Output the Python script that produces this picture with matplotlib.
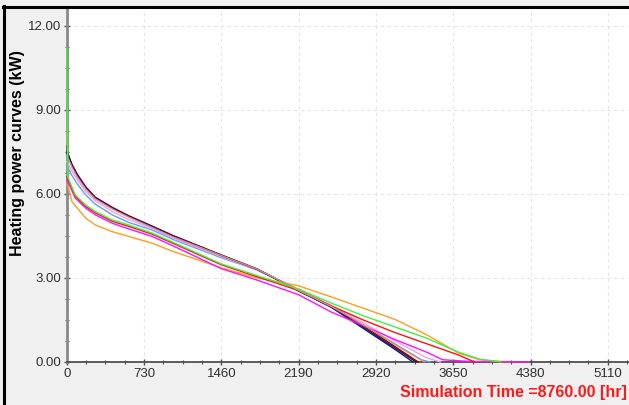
import numpy as np
import matplotlib
matplotlib.use("Agg")
import matplotlib.pyplot as plt
from matplotlib.ticker import AutoMinorLocator, FormatStrFormatter
from matplotlib.lines import Line2D

# --------------------- datos (horas, kW) ---------------------

h_navy   = [0, 10, 50, 100, 180, 270, 430, 585, 806, 1000, 1460, 1800, 2190, 2500, 2800, 3100, 3270]
p_navy   = [7.45, 7.4, 7.0, 6.65, 6.2, 5.85, 5.49, 5.19, 4.83, 4.5, 3.8, 3.3, 2.55, 1.95, 1.2, 0.45, 0.0]

h_maroon = [0, 10, 50, 100, 180, 270, 430, 585, 806, 1000, 1460, 1800, 2190, 2500, 2800, 3100, 3320]
p_maroon = [7.7, 7.45, 7.05, 6.7, 6.25, 5.88, 5.52, 5.22, 4.85, 4.52, 3.82, 3.32, 2.55, 1.98, 1.3, 0.55, 0.0]

h_black  = [0, 10, 50, 100, 180, 270, 430, 585, 806, 1000, 1460, 1800, 2190, 2500, 2800, 3100, 3300]
p_black  = [7.5, 7.42, 7.02, 6.67, 6.22, 5.86, 5.5, 5.2, 4.84, 4.5, 3.81, 3.31, 2.53, 1.96, 1.25, 0.5, 0.0]

h_tan    = [0, 10, 50, 100, 180, 270, 430, 585, 806, 1000, 1460, 1800, 2190, 2500, 2800, 3100, 3380]
p_tan    = [8.4, 7.3, 6.95, 6.6, 6.17, 5.82, 5.46, 5.17, 4.8, 4.47, 3.8, 3.31, 2.56, 1.98, 1.33, 0.62, 0.0]

h_violet = [0, 10, 50, 100, 180, 270, 430, 585, 806, 1000, 1460, 1800, 2190, 2500, 2800, 3100, 3400, 3530]
p_violet = [7.15, 7.1, 6.8, 6.5, 6.08, 5.75, 5.37, 5.08, 4.77, 4.43, 3.76, 3.28, 2.6, 2.02, 1.4, 0.75, 0.15, 0.0]

h_sky    = [0, 10, 50, 100, 180, 270, 430, 585, 806, 1000, 1460, 1800, 2190, 2500, 2800, 3100, 3350, 3430]
p_sky    = [7.0, 6.95, 6.65, 6.35, 5.96, 5.63, 5.25, 4.98, 4.71, 4.38, 3.72, 3.28, 2.58, 1.98, 1.32, 0.65, 0.08, 0.0]

h_green  = [0, 10, 80, 180, 270, 430, 585, 806, 1000, 1460, 1800, 2190, 2500, 2800, 3100, 3400, 3700, 3900, 4100]
p_green  = [11.2, 6.6, 5.96, 5.6, 5.37, 5.07, 4.89, 4.6, 4.28, 3.5, 3.08, 2.6, 2.1, 1.65, 1.25, 0.85, 0.35, 0.1, 0.0]

h_red    = [0, 10, 80, 180, 270, 430, 585, 806, 1000, 1460, 1800, 2190, 2500, 2800, 3100, 3400, 3700, 3850]
p_red    = [6.6, 6.55, 5.92, 5.55, 5.32, 5.02, 4.84, 4.56, 4.24, 3.47, 3.04, 2.55, 2.0, 1.5, 1.05, 0.65, 0.25, 0.0]

h_magenta = [0, 10, 80, 180, 270, 430, 585, 806, 1000, 1460, 1800, 2190, 2500, 2800, 3100, 3400, 3550, 3800, 4360]
p_magenta = [6.5, 6.45, 5.85, 5.49, 5.25, 4.95, 4.75, 4.48, 4.15, 3.33, 2.92, 2.4, 1.78, 1.3, 0.8, 0.35, 0.08, 0.02, 0.0]

h_orange = [0, 10, 50, 180, 270, 430, 585, 806, 1000, 1460, 1800, 2190, 2500, 2800, 3100, 3400, 3700, 3900, 4180]
p_orange = [6.35, 6.3, 5.72, 5.13, 4.89, 4.65, 4.48, 4.24, 3.95, 3.36, 3.0, 2.72, 2.32, 1.92, 1.52, 0.97, 0.32, 0.08, 0.0]

curvas = [
    (h_sky, p_sky, "#5aa0ff"),
    (h_violet, p_violet, "#f59cf5"),
    (h_black, p_black, "#202020"),
    (h_maroon, p_maroon, "#8b0000"),
    (h_navy, p_navy, "#1010b0"),
    (h_orange, p_orange, "#ff9c1a"),
    (h_magenta, p_magenta, "#ff10ff"),
    (h_red, p_red, "#ff1010"),
    (h_tan, p_tan, "#d4956e"),
    (h_green, p_green, "#40f040"),
]

x_ticks = [0, 730, 1460, 2190, 2920, 3650, 4380, 5110]
y_ticks = [0, 3, 6, 9, 12]

# --------------------- figura ---------------------

plt.rcParams['font.family'] = ['Liberation Sans', 'DejaVu Sans']

fig = plt.figure(figsize=(6.29, 4.05), dpi=100, facecolor="#f0f0f0")
W, H = 629, 405
x0, y_axis, y_top = 66.7, 362, 8
px_por_hr = 77.3 / 730
ancho = 8760 * px_por_hr
ax = fig.add_axes([x0 / W, (H - y_axis) / H, ancho / W, (y_axis - y_top) / H])
ax.set_facecolor("white")

for h, p, c in curvas:
    ax.plot(h, p, color=c, lw=1.0, zorder=3, clip_on=False)

ax.set_xlim(0, 8760)
ax.set_ylim(0, 12.63)
ax.set_xticks(x_ticks)
ax.set_yticks(y_ticks)
ax.xaxis.set_minor_locator(AutoMinorLocator(4))
ax.yaxis.set_minor_locator(AutoMinorLocator(4))
ax.yaxis.set_major_formatter(FormatStrFormatter("%.2f"))
# rejilla tambien donde no hay etiqueta
for xv in [5840]:
    ax.axvline(xv, color="#e4e4e4", ls=(0, (3, 3)), lw=0.8, zorder=0)
ax.grid(True, which="major", color="#e4e4e4", ls=(0, (3, 3)), lw=0.8)
ax.set_axisbelow(True)

for s in ["top", "right"]:
    ax.spines[s].set_visible(False)
ax.spines["left"].set_color("#8a8a8a")
ax.spines["left"].set_linewidth(2.0)
ax.spines["bottom"].set_color("#505050")
ax.spines["bottom"].set_linewidth(1.3)

ax.tick_params(which="major", direction="inout", length=4, width=1, color="#505050",
               labelsize=9.5, labelcolor="#303030", pad=2)
ax.tick_params(which="minor", direction="inout", length=3, width=0.8, color="#505050")

fig.text(18 / W, 1 - 153 / H, "Heating power curves (kW)", rotation=90,
         ha="center", va="center", fontsize=11.5, fontweight="bold", color="black")
fig.text(627 / W, 1 - 393 / H, "Simulation Time =8760.00 [hr]", ha="right", va="center",
         fontsize=11.5, fontweight="bold", color="#ff1a1a")

# marco negro arriba e izquierda
fig.add_artist(Line2D([4 / W, 4 / W], [0, 1 - 6 / H], color="black", lw=2.2,
                      transform=fig.transFigure))
fig.add_artist(Line2D([3 / W, 1], [1 - 7 / H, 1 - 7 / H], color="black", lw=2.2,
                      transform=fig.transFigure))

fig.savefig("out.png", dpi=100, facecolor=fig.get_facecolor())
